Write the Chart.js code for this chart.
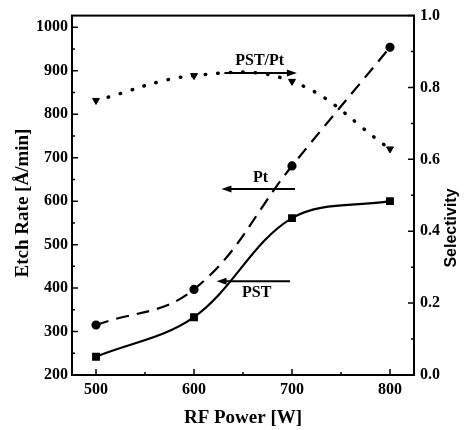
<!DOCTYPE html>
<html>
<head>
<meta charset="utf-8">
<script src="https://cdn.jsdelivr.net/npm/chart.js@4"></script>
<style>
  body { margin: 0; background: #fff; }
  #wrap { width: 473px; height: 430px; }
</style>
</head>
<body>
<div id="wrap"><canvas id="etchChart" width="473" height="430"></canvas></div>
<script>
// data
var rfPower = [500, 600, 700, 800];
var ptRate = [315, 397, 681, 954];
var pstRate = [242, 333, 561, 600];
var selectivity = [0.764, 0.833, 0.817, 0.629];

var xTicks = [500, 600, 700, 800];
var rateTicks = [200, 300, 400, 500, 600, 700, 800, 900, 1000];
var selTicks = [0, 0.2, 0.4, 0.6, 0.8, 1.0];

// arrows pointing to the axis each curve belongs to (data units: W, A/min)
var arrowLabels = ["PST/Pt", "Pt", "PST"];
var arrowFrom = [[631, 895], [703, 628], [698, 416]];
var arrowTo = [[705, 895], [628, 628], [623, 416]];
var labelAt = [[667, 924], [668, 653], [664, 389]];

var serif = '"Liberation Serif", "DejaVu Serif", serif';

function pts(ys) {
  return rfPower.map(function (x, i) { return {x: x, y: ys[i]}; });
}

var framePlugin = {
  id: "frame",
  afterDraw: function (chart) {
    var ctx = chart.ctx;
    var a = chart.chartArea;
    var xs = chart.scales.x, yl = chart.scales.y, yr = chart.scales.y2;
    ctx.save();
    ctx.strokeStyle = "#000";
    ctx.lineWidth = 2;
    ctx.strokeRect(a.left, a.top, a.right - a.left, a.bottom - a.top);

    // inward ticks, major and minor
    ctx.lineWidth = 1.5;
    ctx.beginPath();
    xTicks.forEach(function (v) {
      var px = xs.getPixelForValue(v);
      ctx.moveTo(px, a.bottom); ctx.lineTo(px, a.bottom - 6);
      var pm = xs.getPixelForValue(v + 50);
      if (pm < a.right) { ctx.moveTo(pm, a.bottom); ctx.lineTo(pm, a.bottom - 3); }
    });
    rateTicks.forEach(function (v) {
      var py = yl.getPixelForValue(v);
      ctx.moveTo(a.left, py); ctx.lineTo(a.left + 6, py);
      var pm = yl.getPixelForValue(v + 50);
      if (pm > a.top) { ctx.moveTo(a.left, pm); ctx.lineTo(a.left + 3, pm); }
    });
    selTicks.forEach(function (v) {
      var py = yr.getPixelForValue(v);
      ctx.moveTo(a.right, py); ctx.lineTo(a.right - 6, py);
      var pm = yr.getPixelForValue(v + 0.1);
      if (pm > a.top + 1) { ctx.moveTo(a.right, pm); ctx.lineTo(a.right - 3, pm); }
    });
    ctx.stroke();

    // arrows and their labels
    ctx.lineWidth = 2;
    ctx.fillStyle = "#000";
    ctx.font = "bold 16px " + serif;
    ctx.textAlign = "center";
    ctx.textBaseline = "middle";
    arrowLabels.forEach(function (txt, i) {
      var x0 = xs.getPixelForValue(arrowFrom[i][0]), y0 = yl.getPixelForValue(arrowFrom[i][1]);
      var x1 = xs.getPixelForValue(arrowTo[i][0]), y1 = yl.getPixelForValue(arrowTo[i][1]);
      var dir = x1 > x0 ? 1 : -1;
      ctx.beginPath();
      ctx.moveTo(x0, y0); ctx.lineTo(x1 - dir * 6, y1);
      ctx.stroke();
      ctx.beginPath();
      ctx.moveTo(x1, y1);
      ctx.lineTo(x1 - dir * 10, y1 - 3.5);
      ctx.lineTo(x1 - dir * 10, y1 + 3.5);
      ctx.closePath();
      ctx.fill();
      ctx.fillText(txt, xs.getPixelForValue(labelAt[i][0]), yl.getPixelForValue(labelAt[i][1]));
    });

    // both y titles read bottom-to-top
    ctx.save();
    ctx.font = "bold 19px " + serif;
    ctx.translate(23, 203);
    ctx.rotate(-Math.PI / 2);
    ctx.fillText("Etch Rate [Å/min]", 0, 0);
    ctx.restore();

    ctx.font = 'bold 16px "Liberation Sans", Arial, sans-serif';
    ctx.translate(452, 228);
    ctx.rotate(-Math.PI / 2);
    ctx.fillText("Selectivity", 0, 0);
    ctx.restore();
  }
};

var tickFont = {family: serif, weight: "bold", size: 16};
var titleFont = {family: serif, weight: "bold", size: 19};

new Chart(document.getElementById("etchChart"), {
  type: "line",
  data: {
    datasets: [{
      label: "Pt",
      data: pts(ptRate),
      yAxisID: "y",
      borderColor: "#000",
      backgroundColor: "#000",
      borderWidth: 2.2,
      borderDash: [13, 8],
      tension: 0.4,
      pointStyle: "circle",
      pointRadius: 3.5
    }, {
      label: "PST",
      data: pts(pstRate),
      yAxisID: "y",
      borderColor: "#000",
      backgroundColor: "#000",
      borderWidth: 2.2,
      tension: 0.35,
      pointStyle: "rect",
      pointRadius: 4
    }, {
      label: "PST/Pt",
      data: pts(selectivity),
      yAxisID: "y2",
      borderColor: "#000",
      backgroundColor: "#000",
      borderWidth: 3.5,
      borderDash: [0.5, 12],
      borderCapStyle: "round",
      tension: 0.4,
      pointStyle: "triangle",
      rotation: 180,
      pointRadius: 4,
      pointBorderWidth: 1
    }]
  },
  options: {
    responsive: false,
    animation: false,
    layout: {padding: {top: 12, left: 0, right: 0, bottom: 0}},
    plugins: {legend: {display: false}, tooltip: {enabled: false}},
    scales: {
      x: {
        type: "linear",
        min: 475.5, max: 824.5,
        afterBuildTicks: function (s) { s.ticks = xTicks.map(function (v) { return {value: v}; }); },
        afterFit: function (s) { s.height = 55; },
        grid: {display: false, drawTicks: false},
        border: {display: false},
        ticks: {color: "#000", font: tickFont, padding: 5, maxRotation: 0, callback: function (v) { return String(v); }},
        title: {display: true, text: "RF Power [W]", color: "#000", font: titleFont, padding: {top: 0, bottom: 1}}
      },
      y: {
        position: "left",
        min: 200, max: 1027,
        afterBuildTicks: function (s) { s.ticks = rateTicks.map(function (v) { return {value: v}; }); },
        afterFit: function (s) { s.width = 72; },
        grid: {display: false, drawTicks: false},
        border: {display: false},
        ticks: {color: "#000", font: tickFont, padding: 4, callback: function (v) { return String(v); }}
      },
      y2: {
        position: "right",
        min: 0, max: 1,
        afterBuildTicks: function (s) { s.ticks = selTicks.map(function (v) { return {value: v}; }); },
        afterFit: function (s) { s.width = 59; },
        grid: {display: false, drawTicks: false},
        border: {display: false},
        ticks: {color: "#000", font: tickFont, padding: 6, callback: function (v) { return v.toFixed(1); }}
      }
    }
  },
  plugins: [framePlugin]
});
</script>
</body>
</html>
